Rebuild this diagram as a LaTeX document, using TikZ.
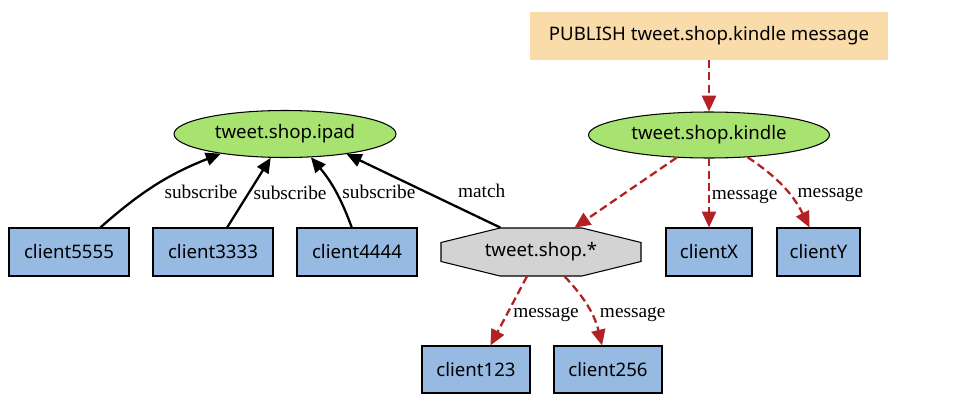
\documentclass[tikz,border=0pt]{standalone}
\usepackage{fontspec}
\setmainfont{Liberation Serif}
\newfontfamily\nodefont{Noto Sans}
\usetikzlibrary{arrows.meta, shapes.geometric, calc, backgrounds}

\definecolor{clientblue}{RGB}{150,186,226}
\definecolor{topicgreen}{RGB}{168,226,112}
\definecolor{pubbeige}{RGB}{250,220,170}
\definecolor{patgray}{RGB}{211,211,211}
\definecolor{msgred}{RGB}{178,34,34}

\begin{document}
\begin{tikzpicture}[x=0.02cm, y=-0.02cm,
    client/.style={draw, fill=clientblue, line width=0.6pt, minimum height=0.96cm,
      inner sep=0pt, font=\nodefont\fontsize{10.6pt}{12pt}\selectfont},
    topic/.style={ellipse, draw, fill=topicgreen, line width=0.6pt, inner sep=0pt,
      font=\nodefont\fontsize{10.6pt}{12pt}\selectfont},
    sub/.style={line width=1.3pt, -{Triangle[length=8.5pt, width=7.5pt]}},
    msg/.style={draw=msgred, line width=1.3pt, dash pattern=on 4.5pt off 2.4pt,
      -{Triangle[length=9pt, width=8pt]}},
    lbl/.style={font=\fontsize{11pt}{12pt}\selectfont, inner sep=1pt}]
        \useasboundingbox (0,0) rectangle (953,419);

        \node[fill=pubbeige, minimum width=7.16cm, minimum height=0.96cm, inner sep=0pt,
          font=\nodefont\fontsize{10.6pt}{12pt}\selectfont] (pub) at (709,36)
          {PUBLISH tweet.shop.kindle message};
        \node[topic, minimum width=4.82cm, minimum height=0.92cm] (kindle) at (709,135) {tweet.shop.kindle};
        \node[topic, minimum width=4.44cm, minimum height=0.94cm] (ipad) at (285,134) {tweet.shop.ipad};

        \node[client, minimum width=2.4cm] (c5555) at (69,252) {client5555};
        \node[client, minimum width=2.4cm] (c3333) at (213,252) {client3333};
        \node[client, minimum width=2.4cm] (c4444) at (357,252) {client4444};
        \node[minimum width=4cm, minimum height=0.96cm, inner sep=0pt,
          font=\nodefont\fontsize{10.6pt}{12pt}\selectfont] (shop) at (541,252) {tweet.shop.*};
        \node[client, minimum width=1.72cm] (cx) at (709,252) {clientX};
        \node[client, minimum width=1.66cm] (cy) at (818.5,252) {clientY};
        \node[client, minimum width=2.16cm, minimum height=0.94cm] (c123) at (476,369.5) {client123};
        \node[client, minimum width=2.16cm, minimum height=0.94cm] (c256) at (608,369.5) {client256};

        \begin{scope}[on background layer]
          \draw[fill=patgray, line width=0.6pt]
            ($(shop)+(-41,-24)$) -- ($(shop)+(41,-24)$) -- ($(shop)+(100,-9.5)$) -- ($(shop)+(100,9.5)$)
            -- ($(shop)+(41,24)$) -- ($(shop)+(-41,24)$) -- ($(shop)+(-100,9.5)$) -- ($(shop)+(-100,-9.5)$) -- cycle;
        \end{scope}

        \draw[sub] (c5555.38) to[bend left=10] node[lbl, anchor=west, pos=.4, xshift=9pt] {subscribe} (ipad.197);
        \draw[sub] (c3333.60) -- node[lbl, anchor=west, pos=.5, xshift=1pt] {subscribe} (ipad.239);
        \draw[sub] (c4444.102) to[bend right=10] node[lbl, anchor=west, pos=.47, xshift=2pt] {subscribe} (ipad.318);
        \draw[sub] (shop.149) -- node[lbl, anchor=west, pos=.5, xshift=18pt] {match} (ipad.342);

        \draw[msg] (pub) -- (kindle);
        \draw[msg] (kindle.215) -- (shop.36);
        \draw[msg] (kindle.south) -- node[lbl, anchor=west, pos=.55] {message} (cx.north);
        \draw[msg] (kindle.330) to[bend left=15] node[lbl, anchor=west, pos=.6, xshift=3pt] {message} (cy.110);
        \draw[msg] (shop.240) -- node[lbl, anchor=west, pos=.55, xshift=2pt] {message} (c123.59);
        \draw[msg] (shop.314) to[bend left=15] node[lbl, anchor=west, pos=.6, xshift=3pt] {message} (c256.104);
      \end{tikzpicture}
\end{document}
